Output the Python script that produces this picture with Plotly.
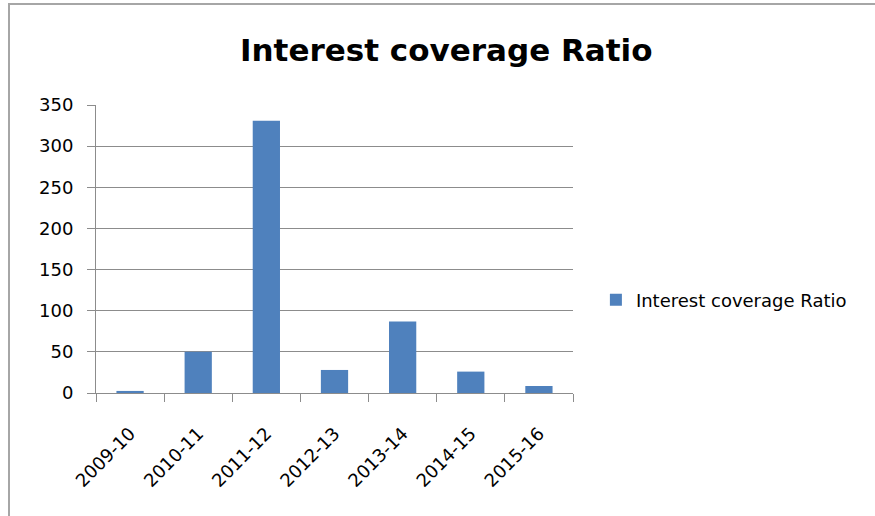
import plotly.graph_objects as go

categories = ["2009-10", "2010-11", "2011-12", "2012-13", "2013-14", "2014-15", "2015-16"]
values = [2.5, 50, 331, 28, 87, 26, 8.5]
series_name = "Interest coverage Ratio"
y_ticks = [0, 50, 100, 150, 200, 250, 300, 350]

FONT = "DejaVu Sans, Liberation Sans, sans-serif"

fig = go.Figure()
fig.add_trace(go.Bar(
    x=categories, y=values, name=series_name,
    marker=dict(color="#4F81BD", line=dict(color="#4F81BD", width=0)),
    showlegend=True,
))

grid = "#8C8C8C"
fig.update_layout(
    width=875, height=516,
    margin=dict(l=96, r=302, t=105, b=123),
    paper_bgcolor="white", plot_bgcolor="white",
    bargap=0.6,
    font=dict(family=FONT, color="#000000", size=16),
    title=dict(text="<b>Interest coverage Ratio</b>", x=0.51, xref="container", xanchor="center",
               y=1 - 50 / 516, yref="container", yanchor="middle",
               font=dict(size=31, family=FONT, color="#000000")),
    showlegend=True,
    legend=dict(x=1.048, y=0.323, xanchor="left", yanchor="middle",
                font=dict(size=18, family=FONT, color="#000000"), bgcolor="rgba(0,0,0,0)",
                itemwidth=30),
    xaxis=dict(
        type="category", tickangle=-45, showline=True, linecolor=grid, linewidth=1,
        ticks="outside", tickson="boundaries", ticklen=8, tickcolor=grid,
        showgrid=False, tickfont=dict(size=18, family=FONT, color="#000000"),
        ticklabelstandoff=22,
    ),
    yaxis=dict(
        range=[0, 350], tickvals=y_ticks, showline=True, linecolor=grid, linewidth=1,
        ticks="outside", ticklen=8, tickcolor=grid, showgrid=True, gridcolor=grid,
        gridwidth=1, zeroline=False, tickfont=dict(size=18, family=FONT, color="#000000"),
        ticklabelstandoff=10,
    ),
    shapes=[dict(type="rect", xref="paper", yref="paper",
                 x0=(9 - 96) / 477, x1=(900 - 96) / 477,
                 y0=-(600 - 393) / 288, y1=(393 - 4) / 288,
                 line=dict(color="#A6A6A6", width=2), fillcolor="rgba(0,0,0,0)",
                 layer="below")],
)

fig.write_html("out.html", config={"displayModeBar": False},
               post_script="document.body.style.margin='0';document.body.style.overflow='hidden';")
